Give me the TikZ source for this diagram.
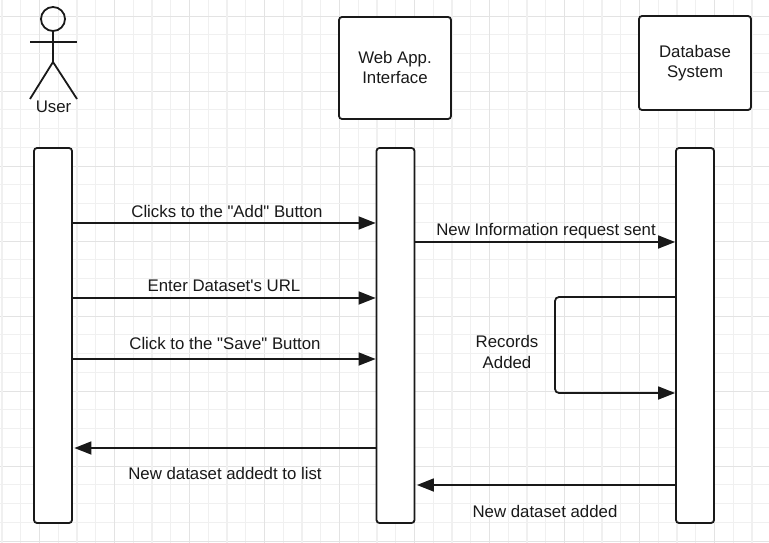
\documentclass[tikz,border=0pt]{standalone}
\usepackage{fontspec}
\setmainfont[Ligatures=TeXOff]{Liberation Sans}
\usetikzlibrary{arrows.meta}

\tikzset{
  every node/.style={font=\fontsize{16.8}{20.5}\selectfont, text=black!90},
  box/.style={draw=black!90, line width=1.8pt, fill=white, rounded corners=3pt, inner sep=0pt, align=center},
  lifeline/.style={box, minimum width=38pt, minimum height=375pt},
  msg/.style={draw=black!90, line width=1.8pt, -{Triangle[length=17pt,width=13pt]}},
  stick/.style={draw=black!90, line width=1.8pt},
}

\begin{document}
\begin{tikzpicture}[x=1pt,y=-1pt]
    \useasboundingbox (0,0) rectangle (769,543);
    \fill[white] (0,0) rectangle (769,543);

    % draw grid
    \foreach \gx in {2,20.75,...,769} \draw[color=black!6, line width=0.9pt] (\gx,0) -- (\gx,543);
    \foreach \gy in {16,34.75,...,543} \draw[color=black!6, line width=0.9pt] (0,\gy) -- (769,\gy);
    \foreach \gx in {39.5,114.5,...,769} \draw[color=black!11, line width=0.9pt] (\gx,0) -- (\gx,543);
    \foreach \gy in {16,91,...,543} \draw[color=black!11, line width=0.9pt] (0,\gy) -- (769,\gy);
    \foreach \gx in {2,77,...,769} \draw[color=black!6, line width=1.8pt] (\gx,0) -- (\gx,543);
    \foreach \gy in {53.5,128.5,...,543} \draw[color=black!6, line width=1.8pt] (0,\gy) -- (769,\gy);

    % draw actor
    \node[stick, circle, minimum size=24pt, inner sep=0pt] (head) at (53,19) {};
    \coordinate (hip) at (53,62);
    \coordinate (armleft) at (30,42);
    \coordinate (armright) at (77,42);
    \coordinate (footleft) at (30,99);
    \coordinate (footright) at (77,99);
    \draw[stick] (head.south) -- (hip);
    \draw[stick] (armleft) -- (armright);
    \draw[stick] (footleft) -- (hip) -- (footright);
    \node (user) at (53.5,107) {User};

    % draw boxes
    \node[box, minimum width=112pt, minimum height=102pt] (webapp) at (395,68) {\raisebox{1pt}{Web App.}\\\raisebox{1pt}{Interface}};
    \node[box, minimum width=112pt, minimum height=94pt] (database) at (695,63) {Database\\System};

    % draw lifelines
    \node[lifeline] (userline) at (53,335.5) {};
    \node[lifeline] (webline) at (395.5,335.5) {};
    \node[lifeline] (dbline) at (695,335.5) {};

    % draw messages
    \draw[msg] (userline.east |- 0,223) -- (webline.west |- 0,223);
    \draw[msg] (webline.east |- 0,242) -- (dbline.west |- 0,242);
    \draw[msg] (userline.east |- 0,298) -- (webline.west |- 0,298);
    \draw[msg] (userline.east |- 0,359) -- (webline.west |- 0,359);
    \draw[msg, rounded corners=4pt] (dbline.west |- 0,297) -| (555,393) -- (dbline.west |- 0,393);
    \draw[msg] (webline.west |- 0,448) -- ([xshift=1.5pt]userline.east |- 0,448);
    \draw[msg] (dbline.west |- 0,485) -- ([xshift=1.5pt]webline.east |- 0,485);

    % draw labels
    \node (addlabel) at (227,211) {Clicks to the "Add" Button};
    \node (reqlabel) at (546,231.5) {New Information request sent};
    \node (urllabel) at (224,286) {Enter Dataset's URL};
    \node (savelabel) at (225,343) {Click to the "Save" Button};
    \node[align=center] (reclabel) at (507,352) {Records\\Added};
    \node (listlabel) at (225,473) {New dataset addedt to list};
    \node (addedlabel) at (545,511) {New dataset added};
\end{tikzpicture}
\end{document}
